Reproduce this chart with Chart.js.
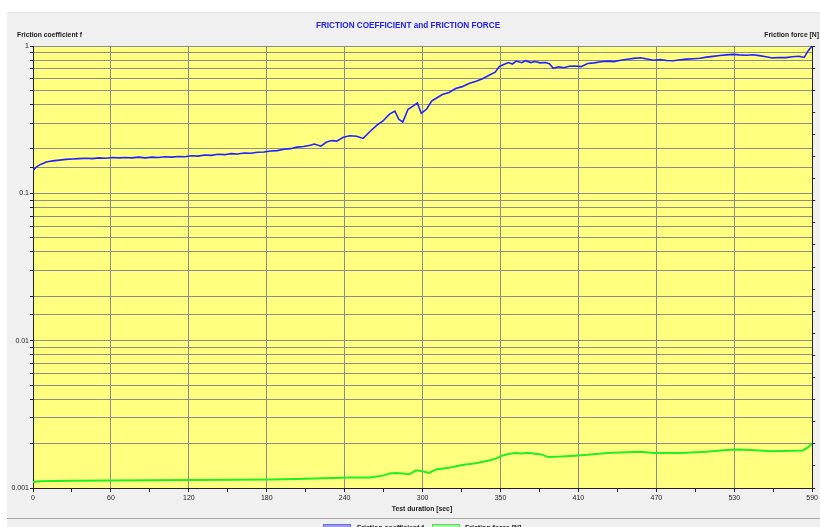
<!DOCTYPE html>
<html>
<head>
<meta charset="utf-8">
<script src="https://cdn.jsdelivr.net/npm/chart.js@4.4.1/dist/chart.umd.min.js"></script>
<style>
  html, body { margin:0; padding:0; width:820px; height:527px; overflow:hidden; background:#fff;
    font-family:"Liberation Sans", Arial, sans-serif; }
  #panel { position:absolute; left:7px; top:12px; width:813px; height:505px; background:#f0f0f0; border-top:1px solid #e2e2e2; }
  #legendPanel { position:absolute; left:7px; top:518px; width:813px; height:9px; background:#f0f0f0; border-top:1px solid #a8a8a8; }
  #chart { position:absolute; left:0; top:0; }
  .lbl { position:absolute; font-weight:bold; color:#1a1a1a; white-space:nowrap; line-height:1; }
  .sw { position:absolute; width:26px; height:10px; }
</style>
</head>
<body>
<div id="panel"></div>
<div id="legendPanel"></div>
<canvas id="chart" width="820" height="527"></canvas>

<div class="lbl" style="left:408px; top:22px; transform:translateX(-50%); font-size:8.2px; color:#2020f0;">FRICTION COEFFICIENT and FRICTION FORCE</div>
<div class="lbl" style="left:17px; top:32px; font-size:6.8px;">Friction coefficient f</div>
<div class="lbl" style="right:1px; top:32px; font-size:6.8px;">Friction force [N]</div>
<div class="lbl" style="left:422px; top:506px; transform:translateX(-50%); font-size:6.8px;">Test duration [sec]</div>

<div class="sw" style="left:323px; top:524px; background:#9c9cff; border:1px solid #6a6ae0;"></div>
<div class="lbl" style="left:357px; top:524px; font-size:7px;">Friction coefficient f</div>
<div class="sw" style="left:432px; top:524px; background:#9cff9c; border:1px solid #60d060;"></div>
<div class="lbl" style="left:465px; top:524px; font-size:7px;">Friction force [N]</div>

<script>
// friction coefficient f (left, log axis)
const coefTime = [0, 3, 5, 8, 10, 13, 15, 20, 25, 30, 35, 40, 45, 50, 55, 60, 65, 70, 75, 80, 85, 90, 95, 100,
  105, 110, 115, 120, 125, 130, 135, 140, 145, 150, 155, 160, 165, 170, 175, 180, 185, 190, 195, 200,
  205, 210, 213, 218, 222, 226, 230, 235, 240, 245, 250, 255, 260, 265, 270, 274, 277, 280, 284, 288,
  291, 294, 298, 302, 305, 310, 315, 320, 325, 330, 335, 340, 345, 350, 353, 356, 360, 363, 366, 370,
  373, 377, 380, 384, 388, 391, 394, 398, 402, 406, 410, 415, 420, 425, 430, 435, 440, 445, 450, 455,
  460, 465, 470, 475, 480, 485, 490, 495, 500, 505, 510, 515, 520, 525, 530, 535, 540, 545, 550, 555,
  560, 565, 570, 575, 580, 584, 587, 590];
const coefValues = [0.143, 0.152, 0.156, 0.160, 0.163, 0.165, 0.166, 0.168, 0.170, 0.171, 0.172, 0.173, 0.172, 0.174, 0.173, 0.175,
  0.174, 0.175, 0.174, 0.176, 0.174, 0.176, 0.175, 0.177, 0.176, 0.178, 0.177, 0.180, 0.179, 0.182, 0.181, 0.184,
  0.183, 0.186, 0.185, 0.188, 0.187, 0.190, 0.191, 0.194, 0.195, 0.199, 0.201, 0.206, 0.208, 0.212, 0.216, 0.209,
  0.222, 0.228, 0.226, 0.240, 0.246, 0.244, 0.236, 0.262, 0.288, 0.310, 0.345, 0.362, 0.318, 0.305, 0.372, 0.392,
  0.410, 0.350, 0.372, 0.425, 0.440, 0.468, 0.484, 0.515, 0.530, 0.556, 0.575, 0.598, 0.630, 0.665, 0.725, 0.745,
  0.772, 0.755, 0.790, 0.770, 0.795, 0.772, 0.785, 0.768, 0.772, 0.758, 0.705, 0.722, 0.712, 0.728, 0.732, 0.724,
  0.760, 0.768, 0.782, 0.790, 0.783, 0.800, 0.812, 0.824, 0.832, 0.815, 0.800, 0.808, 0.798, 0.795, 0.806, 0.815,
  0.820, 0.826, 0.840, 0.850, 0.862, 0.870, 0.877, 0.870, 0.866, 0.872, 0.860, 0.845, 0.830, 0.836, 0.834, 0.846,
  0.852, 0.836, 0.930, 1.0];

// friction force [N] (right, linear axis)
const forceTime = [0, 5, 15, 30, 60, 90, 120, 150, 180, 200, 220, 240, 255, 265, 270, 275, 280, 285, 290, 295,
  300, 305, 315, 325, 335, 345, 350, 355, 360, 365, 370, 375, 380, 385, 390, 400, 410, 420, 435, 450,
  460, 470, 490, 510, 525, 535, 550, 560, 575, 583, 587, 590];
const forceValues = [0.27, 0.30, 0.32, 0.33, 0.34, 0.35, 0.36, 0.37, 0.39, 0.41, 0.44, 0.47, 0.48, 0.56, 0.66, 0.68,
  0.66, 0.62, 0.80, 0.76, 0.68, 0.84, 0.92, 1.04, 1.12, 1.24, 1.32, 1.46, 1.54, 1.58, 1.56, 1.60, 1.55, 1.52,
  1.40, 1.42, 1.46, 1.50, 1.58, 1.62, 1.64, 1.58, 1.58, 1.64, 1.72, 1.74, 1.70, 1.66, 1.68, 1.70, 1.85, 2.0];

const xStep = 29.5;
const coefDecades = ['0.001', '0.01', '0.1', '1'];

const plotBg = {
  id: 'plotBg',
  beforeDraw(c) {
    const { ctx, chartArea: a } = c;
    ctx.save();
    ctx.fillStyle = '#ffff80';
    ctx.fillRect(a.left, a.top, a.right - a.left, a.bottom - a.top);
    ctx.restore();
  }
};

const ctx = document.getElementById('chart').getContext('2d');

new Chart(ctx, {
  type: 'line',
  data: {
    datasets: [
      {
        label: 'Friction coefficient f',
        data: coefTime.map((t, i) => ({ x: t, y: coefValues[i] })),
        borderColor: '#2222ff',
        borderWidth: 1.6,
        yAxisID: 'y'
      },
      {
        label: 'Friction force [N]',
        data: forceTime.map((t, i) => ({ x: t, y: forceValues[i] })),
        borderColor: '#22ee22',
        borderWidth: 2,
        yAxisID: 'yForce'
      }
    ]
  },
  options: {
    responsive: false,
    animation: false,
    layout: { padding: { top: 46, left: 0, right: 0, bottom: 0 } },
    elements: { point: { radius: 0 }, line: { tension: 0 } },
    plugins: { legend: { display: false }, title: { display: false }, tooltip: { enabled: false } },
    scales: {
      x: {
        type: 'linear',
        min: 0,
        max: 590,
        afterFit: s => { s.height = 39; },
        ticks: {
          stepSize: xStep,
          autoSkip: false,
          maxRotation: 0,
          padding: 2,
          color: '#222',
          font: { size: 7, family: 'Liberation Sans' },
          callback: (v, i) => (i % 2 === 0 ? String(Math.round(v / 10) * 10) : '')
        },
        grid: {
          color: c => (c.index % 2 === 0 ? '#8c8c8c' : 'rgba(0,0,0,0)'),
          tickColor: '#222',
          tickLength: 4
        },
        border: { color: '#222', width: 1 }
      },
      y: {
        type: 'logarithmic',
        position: 'left',
        min: 0.001,
        max: 1,
        afterFit: s => { s.width = 33; },
        ticks: {
          autoSkip: false,
          padding: 1,
          color: '#222',
          font: { size: 7, family: 'Liberation Sans' },
          callback: v => {
            const e = Math.log10(v);
            return Math.abs(e - Math.round(e)) < 1e-6 ? coefDecades[Math.round(e) + 3] : '';
          }
        },
        grid: { color: '#8c8c8c', tickColor: '#222', tickLength: 3 },
        border: { color: '#222', width: 1 }
      },
      yForce: {
        type: 'linear',
        position: 'right',
        min: 0,
        max: 20,
        afterFit: s => { s.width = 7; },
        ticks: { stepSize: 1, display: false },
        grid: { drawOnChartArea: false, tickColor: '#222', tickLength: 3 },
        border: { color: '#222', width: 1 }
      }
    }
  },
  plugins: [plotBg]
});
</script>
</body>
</html>
